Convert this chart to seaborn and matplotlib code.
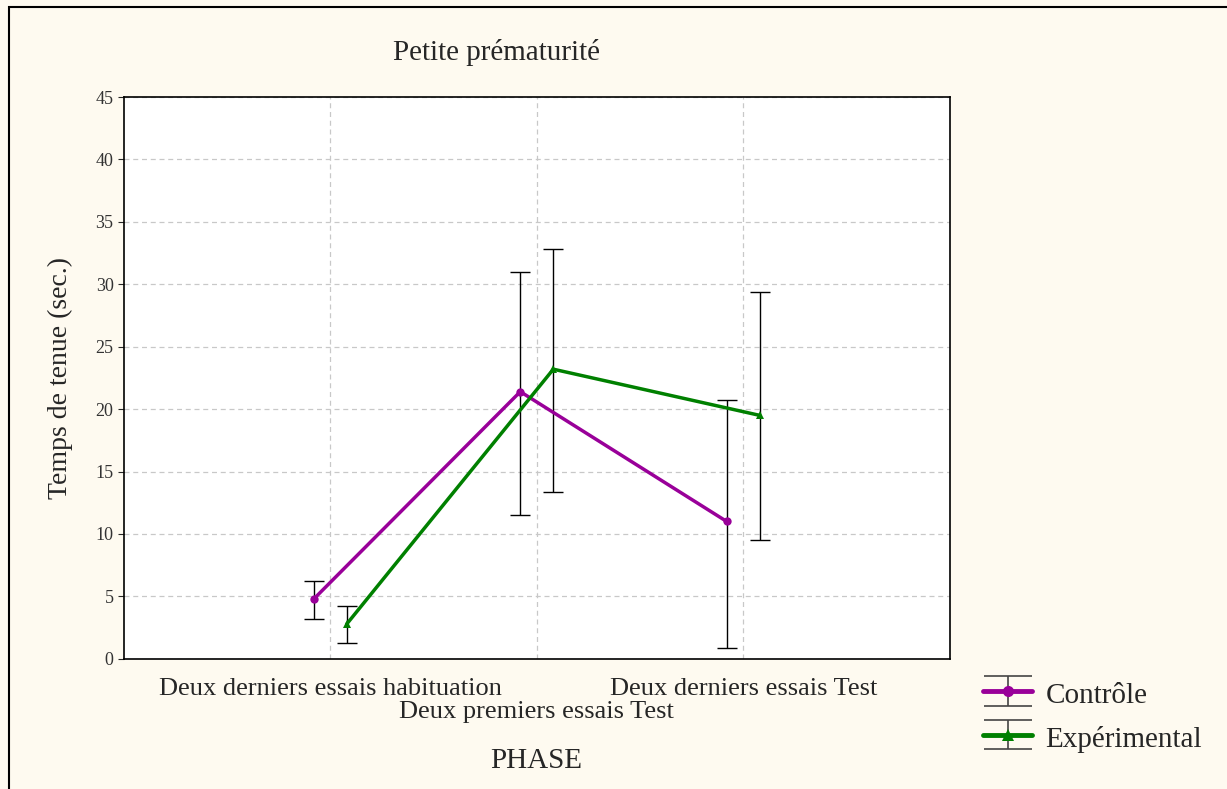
import numpy as np
import pandas as pd
import seaborn as sns
import matplotlib.pyplot as plt
from matplotlib.legend_handler import HandlerTuple
from matplotlib.patches import Rectangle

# values
phases = ["Deux derniers essais habituation", "Deux premiers essais Test", "Deux derniers essais Test"]
groups = ["Contrôle", "Expérimental"]
controle_mean = [4.8, 21.4, 11.0]
controle_low = [3.2, 11.5, 0.9]
controle_high = [6.2, 31.0, 20.7]
exp_mean = [2.8, 23.2, 19.5]
exp_low = [1.3, 13.4, 9.5]
exp_high = [4.2, 32.8, 29.4]

sns.set_style("white")
plt.rcParams['font.family'] = ['Liberation Serif', 'DejaVu Serif']

colors = {"Contrôle": "#990099", "Expérimental": "#008000"}
offsets = {"Contrôle": -0.08, "Expérimental": 0.08}

df = pd.DataFrame({
    "phase": phases * 2,
    "idx": list(range(3)) * 2,
    "group": [groups[0]] * 3 + [groups[1]] * 3,
    "mean": controle_mean + exp_mean,
    "low": controle_low + exp_low,
    "high": controle_high + exp_high,
})
df["pos"] = df["idx"] + df["group"].map(offsets)

fig = plt.figure(figsize=(12.27, 7.89), dpi=100)
fig.patch.set_facecolor("#fefaf0")
fig.patches.append(Rectangle((0.007, -0.01), 1.1, 1.001, transform=fig.transFigure,
                             fill=False, lw=1.5, ec="black"))
ax = fig.add_axes([0.101, 0.165, 0.673, 0.712])
ax.set_facecolor("white")

# error bars first so the lines sit on top
for g in groups:
    sub = df[df["group"] == g]
    ax.errorbar(sub["pos"], sub["mean"],
                yerr=[sub["mean"] - sub["low"], sub["high"] - sub["mean"]],
                fmt="none", ecolor="black", elinewidth=1, capsize=7, capthick=1, zorder=2)

sns.lineplot(data=df, x="pos", y="mean", hue="group", style="group",
             palette=colors, markers={"Contrôle": "o", "Expérimental": "^"},
             dashes=False, lw=2.5, markersize=6, markeredgewidth=0,
             legend=False, ax=ax, zorder=3)

ax.set_xlim(-1, 3)
ax.set_ylim(0, 45)
ax.set_yticks(np.arange(0, 46, 5))
ax.set_yticklabels([str(v) for v in range(0, 46, 5)], fontsize=13, color="#333333")
ax.set_xticks(range(3))
ax.set_xticklabels(phases, fontsize=19)
ax.tick_params(axis="x", length=0, pad=14)
ax.tick_params(axis="y", length=4, direction="out", left=True)
ax.get_xticklabels()[1].set_y(-0.040)
ax.grid(True, ls=(0, (4, 3)), color="#c8c8c8", lw=0.9)
for s in ax.spines.values():
    s.set_color("black")
    s.set_linewidth(1.2)
ax.set_xlabel("")
ax.set_ylabel("Temps de tenue (sec.)", fontsize=20, labelpad=16)

fig.text(0.405, 0.934, "Petite prématurité", fontsize=21, ha="center", va="center")
fig.text(0.437, 0.036, "PHASE", fontsize=21, ha="center", va="center")

# legend: wide-capped error bar with the coloured line through it
handles = []
for g, mk in zip(groups, ["o", "^"]):
    eb = ax.errorbar([np.nan], [np.nan], yerr=[1], fmt="none", ecolor="#444444",
                     elinewidth=1.2, capsize=17, capthick=1.2)
    ln = plt.Line2D([], [], color=colors[g], lw=3.5, marker=mk, markersize=8, markeredgewidth=0)
    handles.append((eb, ln))
fig.legend(handles, groups, handler_map={tuple: HandlerTuple(ndivide=1)},
           loc="upper left", bbox_to_anchor=(0.801, 0.140), frameon=False,
           borderpad=0, borderaxespad=0,
           fontsize=21, handlelength=1.7, handleheight=1.2, handletextpad=0.45, labelspacing=0.45)

fig.savefig("out.png", dpi=100, facecolor=fig.get_facecolor())
